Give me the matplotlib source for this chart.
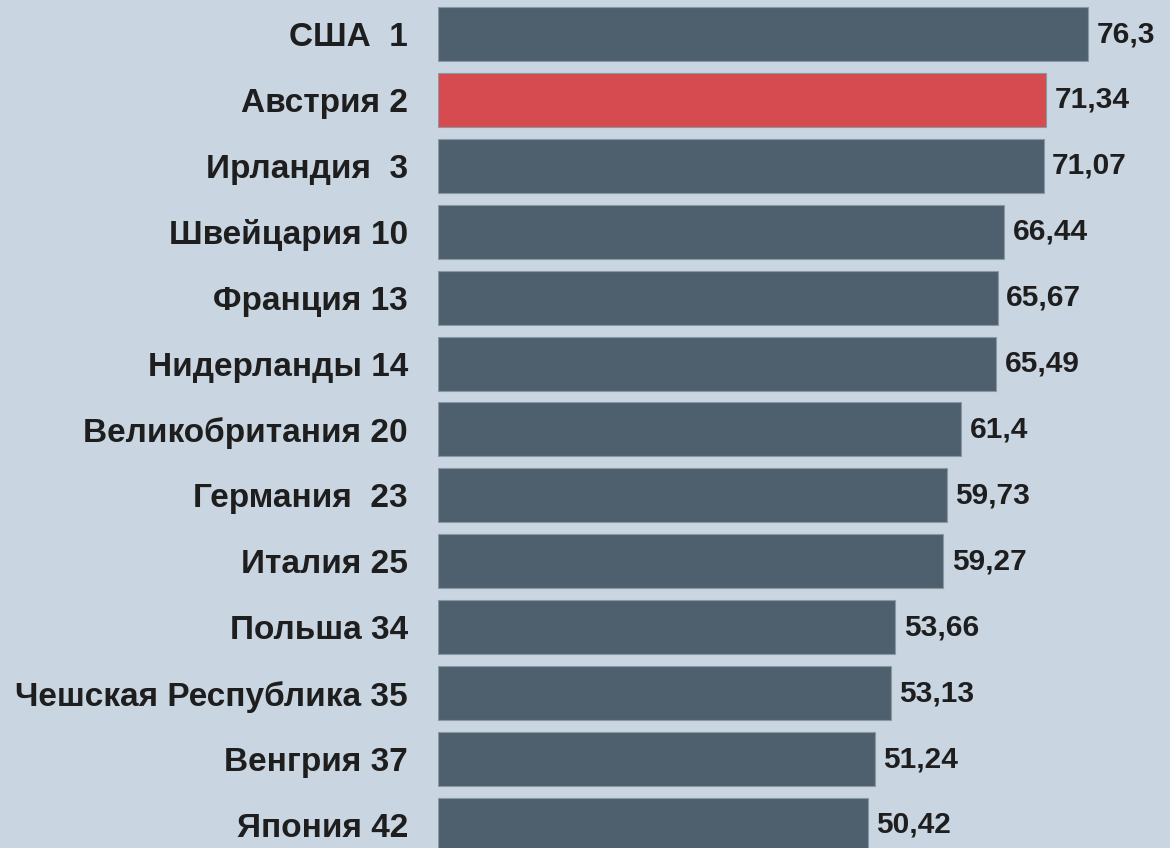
import matplotlib
matplotlib.use("Agg")
import matplotlib.pyplot as plt

countries = ["США  1", "Австрия 2", "Ирландия  3", "Швейцария 10", "Франция 13",
             "Нидерланды 14", "Великобритания 20", "Германия  23", "Италия 25",
             "Польша 34", "Чешская Республика 35", "Венгрия 37", "Япония 42"]
values = [76.3, 71.34, 71.07, 66.44, 65.67, 65.49, 61.4, 59.73, 59.27,
          53.66, 53.13, 51.24, 50.42]
value_labels = ["76,3", "71,34", "71,07", "66,44", "65,67", "65,49", "61,4",
                "59,73", "59,27", "53,66", "53,13", "51,24", "50,42"]
highlight = "Австрия 2"

bg = "#c9d5e1"
bar_col = "#4e606e"
red = "#d54b50"
txt = "#1e1e1e"

plt.rcParams['font.family'] = ['Liberation Sans', 'DejaVu Sans']

fig = plt.figure(figsize=(11.7, 8.48), dpi=100, facecolor=bg)
ax = fig.add_axes([438 / 1170, 0, 732 / 1170, 1])
ax.set_facecolor(bg)

ypos = list(range(len(countries)))
colors = [red if c == highlight else bar_col for c in countries]
ax.barh(ypos, values, height=0.82, color=colors, edgecolor="#8a98a4", linewidth=0.8)

for y, v, lab in zip(ypos, values, value_labels):
    ax.text(v + 1.0, y, lab, va="center", ha="left", fontsize=21.5,
            fontweight="bold", color=txt)

ax.set_xlim(0, 85.9)
ax.set_ylim(12.35, -0.516)
ax.set_yticks(ypos)
ax.set_yticklabels(countries, fontsize=24, fontweight="bold", color=txt)
ax.tick_params(axis="y", length=0, pad=21.6)
ax.set_xticks([])
for s in ax.spines.values():
    s.set_visible(False)

fig.savefig("out.png", dpi=100, facecolor=bg)
